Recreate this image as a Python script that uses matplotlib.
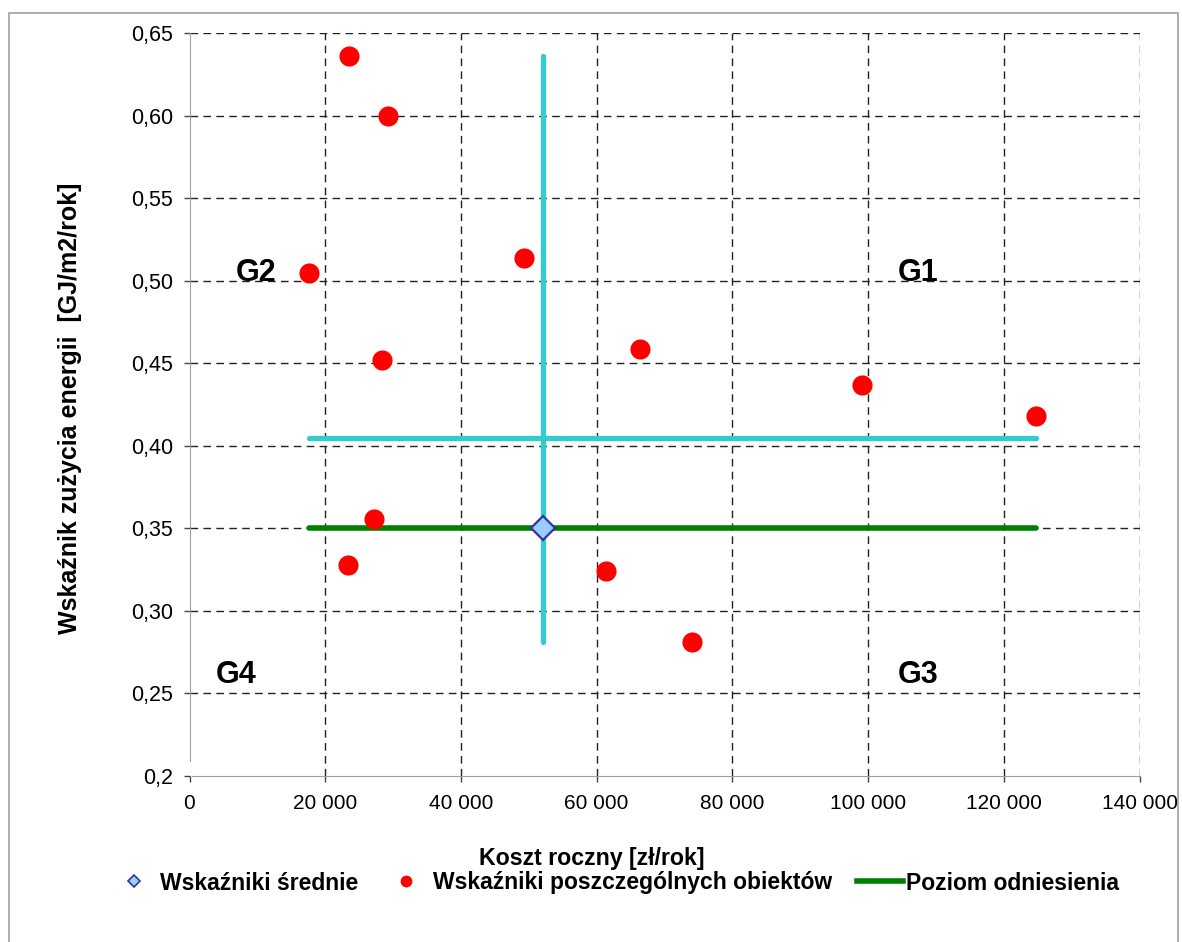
import numpy as np
import matplotlib
matplotlib.use("Agg")
import matplotlib.pyplot as plt
from matplotlib.lines import Line2D
from matplotlib.patches import Rectangle
from matplotlib.ticker import FuncFormatter

plt.rcParams['font.family'] = ['Liberation Sans', 'DejaVu Sans']

# koszt roczny [zl/rok] i wskaznik zuzycia energii dla obiektow
koszt = [23500, 29300, 17600, 49300, 28400, 66400, 99100, 124800, 27200, 23400, 61400, 74100]
wskaznik = [0.636, 0.600, 0.505, 0.514, 0.452, 0.459, 0.437, 0.418, 0.356, 0.328, 0.324, 0.281]

sredni_koszt = 52100
sredni_wskaznik = 0.35
poziom_odniesienia = 0.35
poziom_podzialu = 0.405

y_ticks = [0.20, 0.25, 0.30, 0.35, 0.40, 0.45, 0.50, 0.55, 0.60, 0.65]
y_labels = ["0,2", "0,25", "0,30", "0,35", "0,40", "0,45", "0,50", "0,55", "0,60", "0,65"]
x_ticks = [0, 20000, 40000, 60000, 80000, 100000, 120000, 140000]

grupy = ["G1", "G2", "G3", "G4"]
grupy_x = [107400, 9800, 107400, 6900]
grupy_y = [0.505, 0.505, 0.261, 0.261]

W, H = 1182, 942
fig = plt.figure(figsize=(W / 100, H / 100), dpi=100)
ax = fig.add_axes([189.5 / W, 1 - 776 / H, 950 / W, (776 - 33.3) / H])

# ramka wokol wykresu
fig.patches.append(Rectangle((9 / W, -0.01), 1169 / W, 1 - 13 / H + 0.01,
                             transform=fig.transFigure, fill=False,
                             edgecolor='#a0a0a0', lw=1.2))

ax.set_xlim(0, 140000)
ax.set_ylim(0.2, 0.65)

# siatka
for yv in y_ticks[1:]:
    ax.axhline(yv, color='#222222', lw=1.0, ls=(0, (5.5, 3.8)), zorder=1)
for xv in x_ticks[1:]:
    ax.axvline(xv, color='#222222', lw=1.0, ls=(0, (5.5, 3.8)), zorder=1)

# linie podzialu na grupy
kx0, kx1 = min(koszt), max(koszt)
wy0, wy1 = min(wskaznik), max(wskaznik)
ax.plot([sredni_koszt, sredni_koszt], [wy0, wy1], color='#33CCCC', lw=3.8,
        solid_capstyle='round', zorder=3)
ax.plot([kx0, kx1], [poziom_podzialu, poziom_podzialu], color='#33CCCC', lw=3.8,
        solid_capstyle='round', zorder=3)
ax.plot([kx0, kx1], [poziom_odniesienia, poziom_odniesienia], color='#008000', lw=4.0,
        solid_capstyle='round', zorder=4)

ax.plot(koszt, wskaznik, 'o', color='#FF0000', ms=14.5, mec='none', zorder=5)
ax.plot([sredni_koszt], [sredni_wskaznik], 'D', mfc='#99CCFF', mec='#333399',
        ms=12, mew=1.6, zorder=6)

for g, gx, gy in zip(grupy, grupy_x, grupy_y):
    ax.text(gx, gy, g, fontsize=22, fontweight='bold', ha='center', va='center')

for s in ['top', 'right']:
    ax.spines[s].set_visible(False)
ax.spines['left'].set_color('#a0a0a0')
ax.spines['bottom'].set_color('#a0a0a0')
ax.spines['left'].set_bounds(0.209, 0.65)
ax.spines['bottom'].set_bounds(300, 140000)

ax.set_yticks(y_ticks)
ax.set_yticklabels(y_labels)
ax.set_xticks(x_ticks)
ax.xaxis.set_major_formatter(FuncFormatter(lambda v, p: f"{int(v):,}".replace(",", " ")))
ax.tick_params(axis='both', labelsize=15, length=4, width=1.0, color='#444444')
ax.tick_params(axis='y', labelsize=15.5, pad=8)
ax.tick_params(axis='x', pad=9)

fig.text(592 / W, 1 - 859 / H, "Koszt roczny [zł/rok]", ha='center', va='center',
         fontsize=16.7, fontweight='bold')
fig.text(70 / W, 1 - 408 / H, "Wskaźnik zużycia energii  [GJ/m2/rok]", ha='center',
         va='center', rotation=90, fontsize=18, fontweight='bold')

handles = [
    Line2D([], [], ls='none', marker='D', mfc='#99CCFF', mec='#333399', ms=6.5, mew=1.2),
    Line2D([], [], ls='none', marker='o', color='#FF0000', ms=8.5, mec='none'),
    Line2D([], [], color='#008000', lw=4.0),
]
labels = ["Wskaźniki średnie", "Wskaźniki poszczególnych obiektów", "Poziom odniesienia"]
fig.legend(handles, labels, loc='center', bbox_to_anchor=(615 / W, 1 - 883 / H), ncol=3,
           frameon=False, prop={'size': 16.5, 'weight': 'bold'}, handlelength=2.0,
           handletextpad=0.15, columnspacing=1.1)

fig.savefig("out.png", dpi=100)
